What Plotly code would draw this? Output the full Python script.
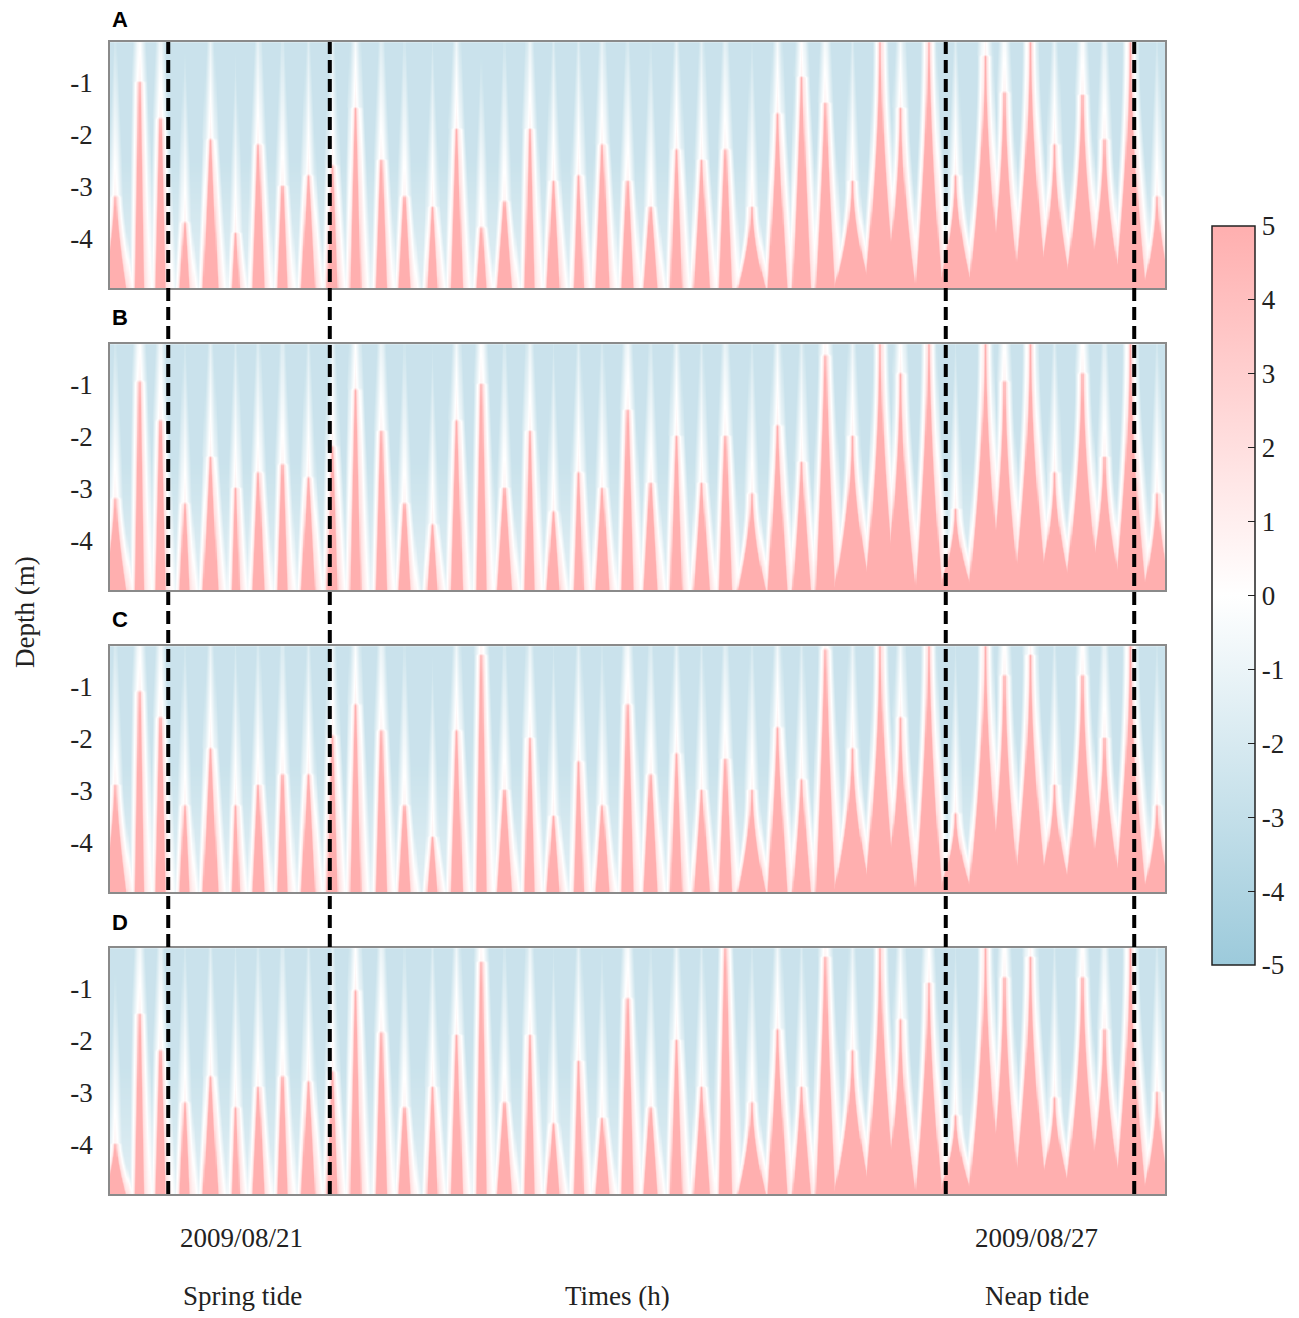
import numpy as np
import plotly.graph_objects as go

# centres of the red tongues (hours from the start of the record)
spike_time = [0.9, 5.3, 9.1, 13.5, 18.2, 22.8, 26.9, 31.3, 36.0, 40.4,
              44.6, 49.3, 53.5, 58.6, 63.0, 67.5, 71.7, 76.3, 80.6, 85.2,
              89.5, 94.1, 98.3, 103.0, 107.6, 111.9, 116.7, 121.4, 125.8, 130.1,
              135.0, 140.1, 143.8, 148.9, 153.8, 159.2, 162.7, 167.4, 171.8, 176.9,
              180.9, 185.6, 190.5]
# half-width of each tongue at the bed (hours)
spike_width = [2.0, 0.7, 0.8, 0.8, 1.3, 0.6, 1.0, 0.8, 1.2, 0.9,
               0.9, 0.9, 1.0, 0.9, 1.0, 0.8, 1.3, 0.8, 1.1, 0.8,
               1.2, 1.0, 1.2, 1.0, 1.4, 1.1, 2.6, 1.7, 1.6, 1.7,
               3.4, 2.8, 2.8, 2.4, 3.2, 3.0, 2.8, 3.0, 3.2, 3.2,
               3.2, 2.8, 2.6]
# depth (m) reached by the tip of each tongue, per panel
tip_A = [-3.2, -1.0, -1.7, -3.7, -2.1, -3.9, -2.2, -3.0, -2.8, -2.6,
         -1.5, -2.5, -3.2, -3.4, -1.9, -3.8, -3.3, -1.9, -2.9, -2.8,
         -2.2, -2.9, -3.4, -2.3, -2.5, -2.3, -3.4, -1.6, -0.9, -1.4,
         -2.9, -0.25, -1.5, -0.22, -2.8, -0.5, -1.2, -0.25, -2.2, -1.25,
         -2.1, -0.22, -3.2]
tip_B = [-3.2, -0.95, -1.7, -3.3, -2.4, -3.0, -2.7, -2.55, -2.8, -2.2,
         -1.1, -1.9, -3.3, -3.7, -1.7, -1.0, -3.0, -1.9, -3.45, -2.7,
         -3.0, -1.5, -2.9, -2.0, -2.9, -2.0, -3.1, -1.8, -2.5, -0.45,
         -2.0, -0.25, -0.8, -0.22, -3.4, -0.25, -0.95, -0.25, -2.7, -0.8,
         -2.4, -0.22, -3.1]
tip_C = [-2.9, -1.1, -1.6, -3.3, -2.2, -3.3, -2.9, -2.7, -2.7, -1.95,
         -1.35, -1.85, -3.3, -3.9, -1.85, -0.4, -3.0, -2.0, -3.5, -2.45,
         -3.3, -1.35, -2.7, -2.3, -3.0, -2.4, -3.0, -1.8, -2.8, -0.3,
         -2.2, -0.22, -1.6, -0.22, -3.45, -0.22, -0.8, -0.4, -2.9, -0.8,
         -2.0, -0.22, -3.3]
tip_D = [-4.0, -1.5, -2.2, -3.2, -2.7, -3.3, -2.9, -2.7, -2.8, -2.6,
         -1.05, -1.85, -3.3, -2.9, -1.9, -0.5, -3.2, -1.9, -3.6, -2.4,
         -3.5, -1.2, -3.3, -2.0, -2.9, -0.25, -3.2, -1.8, -2.9, -0.4,
         -2.2, -0.22, -1.6, -0.9, -3.45, -0.22, -0.8, -0.4, -3.1, -0.8,
         -1.8, -0.22, -3.0]
panel_names = ["A", "B", "C", "D"]
tide_marks = [10.6, 40.0, 152.1, 186.4]
date_labels = ["2009/08/21", "2009/08/27"]
depth_ticks = [-1, -2, -3, -4]
cbar_ticks = [5, 4, 3, 2, 1, 0, -1, -2, -3, -4, -5]

t_grid = np.arange(0, 192.01, 0.2)
d_grid = np.arange(-4.95, -0.2, 0.05)
bed = -5.0


def build_field(tips):
    T, D = np.meshgrid(t_grid, d_grid)
    z = -2.7 + 0.5 * np.clip(-2.5 - D, 0, None)
    for c, w, top in zip(spike_time, spike_width, tips):
        f = (D - bed) / (top - bed)
        below = f < 1
        rest = np.clip(1 - f, 0, 1)
        dt = T - c
        # wide tongues flare out towards the bed, narrow ones stay straight
        p = 1 + 0.8 * min(max((w - 1.2) / 1.5, 0), 1)
        dx = np.abs(dt) - w * rest ** p
        left = np.maximum(5.2 - 12 * dx, 1.4 - 3.6 * (dx - 0.3))
        right = np.maximum(5.2 - 12 * dx, 1.9 - (3.6 - 2.0 * rest) * (dx - 0.27))
        v_in = np.where(dt < 0, left, right)
        v_trail = 0.8 - 2.2 * np.abs(dt) - 1.0 * (D - top)
        z = np.maximum(z, np.where(below, v_in, v_trail))
    return np.clip(z, -5, 5)


W, H = 1299, 1318
OFF = 8  # the page body margin


def px_x(p):
    return (p - OFF) / W


def px_y(p):
    return 1 - (p - OFF) / H


x_dom = [px_x(110), px_x(1165)]
tops = [42, 344, 646, 948]
panel_h = 246

colorscale = [[0.0, "#9ccadb"], [0.5, "#ffffff"], [1.0, "#ffafaf"]]
serif = "Liberation Serif, Times New Roman, serif"

fig = go.Figure()
layout = dict(width=W, height=H, margin=dict(l=0, r=0, t=0, b=0),
              paper_bgcolor="white", plot_bgcolor="white", showlegend=False,
              font=dict(family=serif, size=27, color="#222222"))

for i, tips in enumerate([tip_A, tip_B, tip_C, tip_D]):
    n = "" if i == 0 else str(i + 1)
    fig.add_trace(go.Heatmap(x=t_grid, y=d_grid, z=build_field(tips),
                             coloraxis="coloraxis", zsmooth="best",
                             xaxis="x" + n, yaxis="y" + n, hoverinfo="skip"))
    layout["xaxis" + n] = dict(domain=x_dom, range=[0, 192], showticklabels=False,
                               ticks="", showgrid=False, zeroline=False,
                               showline=True, mirror=True, linecolor="#8a8a8a",
                               linewidth=1.5, anchor="y" + n)
    layout["yaxis" + n] = dict(domain=[px_y(tops[i] + panel_h), px_y(tops[i])],
                               range=[-4.95, -0.22],
                               tickvals=depth_ticks, ticktext=[str(v) for v in depth_ticks],
                               ticks="", showgrid=False, zeroline=False,
                               showline=True, mirror=True, linecolor="#8a8a8a",
                               linewidth=1.5, anchor="x" + n, ticklabelstandoff=10,
                               tickfont=dict(family=serif, size=27))

layout["coloraxis"] = dict(
    cmin=-5, cmax=5, colorscale=colorscale,
    colorbar=dict(x=px_x(1212), xanchor="left", y=px_y((226 + 965) / 2), yanchor="middle",
                  len=739 / H, lenmode="fraction", thickness=43,
                  outlinecolor="#222222", outlinewidth=1.5,
                  tickvals=cbar_ticks, ticktext=[str(v) for v in cbar_ticks],
                  ticks="inside", ticklen=7, tickcolor="#222222",
                  tickfont=dict(family=serif, size=27), xpad=0, ypad=0))

shapes = []
for m in tide_marks:
    shapes.append(dict(type="line", xref="x", yref="paper", x0=m, x1=m,
                       y0=px_y(tops[3] + panel_h), y1=px_y(tops[0]),
                       line=dict(color="black", width=4, dash="13px,6px")))
layout["shapes"] = shapes

ann = []
for i, name in enumerate(panel_names):
    if i == 0:
        ypos, yanc = 1.0 + 3 / H, "top"
    else:
        ypos, yanc = px_y(tops[i] - 26), "middle"
    ann.append(dict(text="<b>%s</b>" % name, xref="paper", yref="paper",
                    x=px_x(110), y=ypos, xanchor="left", yanchor=yanc,
                    showarrow=False, font=dict(family="Liberation Sans, Arial", size=22, color="black")))
row1 = px_y(1238)
row2 = px_y(1296)
bottom_text = [(date_labels[0], 24.0, row1), (date_labels[1], 168.7, row1),
               ("Spring tide", 24.2, row2), ("Times (h)", 92.3, row2),
               ("Neap tide", 168.7, row2)]
for txt, xv, yv in bottom_text:
    ann.append(dict(text=txt, xref="x4", yref="paper", x=xv, y=yv,
                    xanchor="center", yanchor="middle", showarrow=False))
ann.append(dict(text="Depth (m)", xref="paper", yref="paper", x=0, y=px_y(612),
                xanchor="left", yanchor="middle", textangle=-90, showarrow=False))
layout["annotations"] = ann

fig.update_layout(**layout)
fig.write_html("out.html")
